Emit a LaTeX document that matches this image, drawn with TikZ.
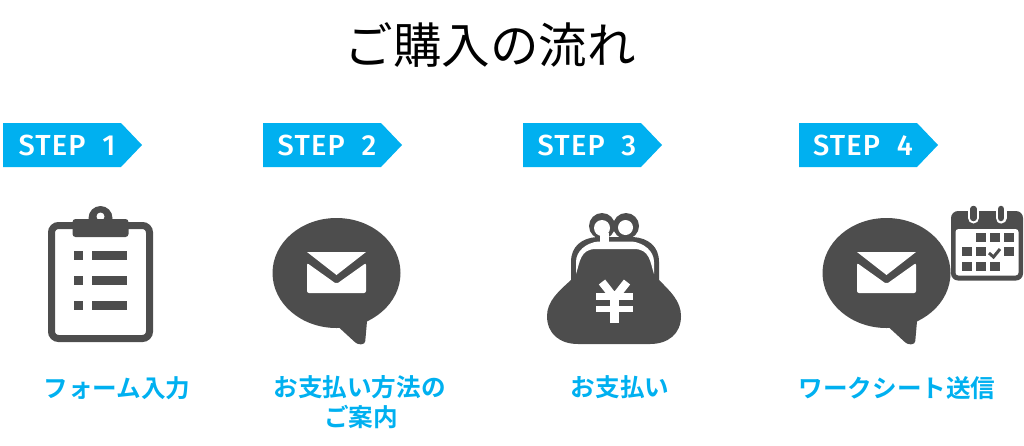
\documentclass[tikz,border=0pt]{standalone}
\usepackage{fontspec}
\usepackage{xcolor}
\setmainfont{Noto Sans CJK JP}
\newfontfamily\stepfont[LetterSpace=4]{Fira Sans Medium}
\newfontfamily\labelfont{Noto Sans CJK JP Bold}
\definecolor{stepcyan}{RGB}{0,176,240}
\definecolor{icondark}{RGB}{77,77,77}
\tikzset{
  steptext/.style={text=white,font=\stepfont\fontsize{29}{29}\selectfont,inner sep=0pt},
  titletext/.style={font=\fontsize{48.5}{48.5}\selectfont,inner sep=0pt},
  flowtext/.style={text=stepcyan,font=\labelfont\fontsize{24.6}{24.6}\selectfont,inner sep=0pt},
  iconline/.style={draw=icondark,line width=7pt},
}
% speech bubble with envelope, #1 is the left edge of the bubble
\newcommand{\mailbubble}[1]{
  \begin{scope}[shift={(#1,0)}]
    \fill[icondark] (63.5,273) ellipse (64 and 55);
    \fill[icondark,rounded corners=3pt] (60,322) -- (84.5,344.5) -- (92,344) -- (95,310) -- cycle;
    \fill[white] (34,252) -- (93,252) -- (63.5,275) -- cycle;
    \fill[white,rounded corners=2pt] (34,293) -- (34,263) -- (63.5,284) -- (93,263) -- (93,293) -- cycle;
  \end{scope}
}
\begin{document}
\begin{tikzpicture}[x=1pt,y=-1pt]
  \useasboundingbox (0,0) rectangle (1024,445);
  \node[titletext] (title) at (490,45) {ご購入の流れ};
  % step tags
  \foreach \x/\n in {3/1,263/2,523/3,799/4}{
    \fill[stepcyan] (\x,123) -- (\x+118,123) -- (\x+139,145) -- (\x+118,167) -- (\x,167) -- cycle;
    \node[steptext] (step\n) at (\x+64,145) {STEP\ \ \n};
  }
  % clipboard
  \draw[iconline,rounded corners=7pt] (51.5,225.5) rectangle (149.5,338.5);
  \fill[icondark] (100.5,218) circle (12);
  \fill[white] (100.5,216.5) circle (4);
  \fill[icondark,rounded corners=3pt] (72.5,219) -- (128.5,219) -- (128.5,237) -- (72.5,237) -- cycle;
  \foreach \y in {251,276,301}{
    \fill[icondark] (74,\y) rectangle (83,\y+9);
    \fill[icondark] (92,\y) rectangle (127,\y+9);
  }
  % mail
  \mailbubble{273}
  % purse
  \fill[icondark] (571,280) -- (571,262) .. controls (571,246) and (582,238) .. (597,237) -- (633,237) .. controls (648,238) and (659,246) .. (659,262) -- (659,280)
    .. controls (670,291) and (681,301) .. (681,316) .. controls (681,334) and (668,344) .. (650,344) -- (578,344)
    .. controls (560,344) and (547,334) .. (547,316) .. controls (547,301) and (559,291) .. (571,280) -- cycle;
  \fill[icondark] (602,226) circle (13);
  \fill[icondark] (626,226) circle (13);
  \fill[white] (576,274) -- (576,262) .. controls (576,251) and (586,243) .. (598,241.5) -- (632,241.5) .. controls (644,243) and (654,251) .. (654,262) -- (654,274)
    .. controls (650,262) and (650,249) .. (634,249) -- (596,249) .. controls (580,249) and (580,262) .. (576,274) -- cycle;
  \fill[white] (602,228) circle (8);
  \fill[white] (600,233) rectangle (608.5,243);
  \begin{scope}
    \clip (615,215) rectangle (636,237);
    \fill[white] (625.5,227.5) circle (7.5);
  \end{scope}
  \draw[white,line width=8pt] (602,282) -- (614.5,298) -- (627,282);
  \draw[white,line width=9pt] (614.5,296) -- (614.5,323);
  \fill[white] (596,293) rectangle (633,300);
  \fill[white] (596,306) rectangle (633,312);
  % second mail with calendar
  \mailbubble{823}
  \fill[icondark,rounded corners=7pt] (951,211) rectangle (1023,280.5);
  \fill[white,rounded corners=3pt] (955.5,229) rectangle (1018.5,275.5);
  \foreach \cx in {973.5,1001}{
    \draw[white,line width=11pt,line cap=round] (\cx,211) -- (\cx,218);
    \draw[icondark,line width=6.5pt,line cap=round] (\cx,209) -- (\cx,218);
  }
  \foreach \cx/\cy in {976/233,990/233,1004/233,962/247,976/247,1004/247,962/262,976/262,990/262}{
    \fill[icondark] (\cx,\cy) rectangle (\cx+9.5,\cy+9);
  }
  \draw[icondark,line width=3pt] (989,253) -- (993.5,257) -- (1000,249);
  % labels
  \node[flowtext] (form) at (117,388) {フォーム入力};
  \node[flowtext] (pay1) at (359.5,387) {お支払い方法の};
  \node[flowtext] (pay2) at (361,417) {ご案内};
  \node[flowtext] (pay3) at (620,387) {お支払い};
  \node[flowtext] (send) at (897,388) {ワークシート送信};
\end{tikzpicture}
\end{document}
